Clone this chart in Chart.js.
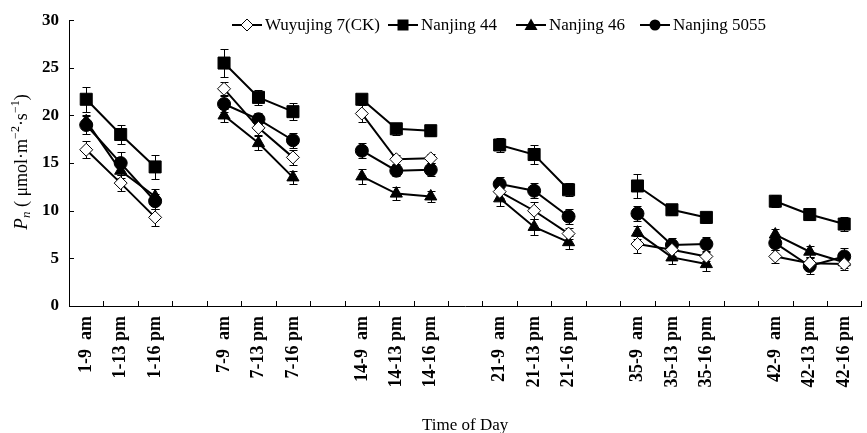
<!DOCTYPE html>
<html>
<head>
<meta charset="utf-8">
<script src="https://cdn.jsdelivr.net/npm/chart.js@4"></script>
<style>
  html, body { margin: 0; padding: 0; background: #fff; overflow: hidden; }
</style>
</head>
<body>
<canvas id="pnChart" width="876" height="433"></canvas>
<script>
// Sampling times (day-hour), empty slots separate the days
const categories = ['1-9  am', '1-13 pm', '1-16 pm', '',
                    '7-9  am', '7-13 pm', '7-16 pm', '',
                    '14-9  am', '14-13 pm', '14-16 pm', '',
                    '21-9  am', '21-13 pm', '21-16 pm', '',
                    '35-9  am', '35-13 pm', '35-16 pm', '',
                    '42-9  am', '42-13 pm', '42-16 pm'];

const yTicks = [0, 5, 10, 15, 20, 25, 30];

// Pn values per cultivar
const wuyujing = [16.4, 12.9, 9.3, null, 22.8, 18.7, 15.6, null, 20.2, 15.4, 15.5, null,
                  12.0, 10.0, 7.6, null, 6.5, 5.9, 5.2, null, 5.2, 4.5, 4.4];
const nanjing44 = [21.7, 18.0, 14.6, null, 25.5, 21.9, 20.4, null, 21.7, 18.6, 18.4, null,
                   16.9, 15.9, 12.2, null, 12.6, 10.1, 9.3, null, 11.0, 9.6, 8.6];
const nanjing46 = [19.4, 14.2, 11.5, null, 20.0, 17.1, 13.5, null, 13.6, 11.8, 11.5, null,
                   11.3, 8.3, 6.7, null, 7.7, 5.1, 4.4, null, 7.5, 5.7, 4.6];
const nanjing5055 = [19.0, 15.0, 11.0, null, 21.2, 19.6, 17.4, null, 16.3, 14.2, 14.3, null,
                     12.8, 12.1, 9.4, null, 9.7, 6.4, 6.5, null, 6.6, 4.2, 5.2];

// error bars (+/-)
const wuyujingErr = [0.9, 0.8, 0.9, null, 0.7, 0.8, 0.8, null, 0.9, 0.5, 0.5, null,
                     0.7, 0.9, 0.6, null, 0.9, 0.6, 0.5, null, 0.7, 0.6, 0.6];
const nanjing44Err = [1.3, 1.0, 1.3, null, 1.5, 0.8, 0.9, null, 0.5, 0.6, 0.6, null,
                      0.7, 1.0, 0.7, null, 1.3, 0.6, 0.6, null, 0.6, 0.6, 0.7];
const nanjing46Err = [0.6, 0.8, 0.8, null, 0.7, 0.7, 0.7, null, 0.8, 0.7, 0.6, null,
                      0.8, 0.8, 0.7, null, 0.7, 0.7, 0.7, null, 0.6, 0.6, 0.6];
const nanjing5055Err = [0.9, 1.2, 0.8, null, 0.8, 0.7, 0.8, null, 0.8, 0.6, 0.7, null,
                        0.7, 0.8, 0.8, null, 0.8, 0.7, 0.7, null, 0.7, 0.8, 0.9];

const serif = '"Liberation Serif", "Times New Roman", serif';

function makeSet(label, data, err, style, radius, fill) {
    return {
        label: label,
        data: data,
        errors: err,
        borderColor: '#000',
        borderWidth: 2,
        pointStyle: style,
        pointRadius: radius,
        pointHoverRadius: radius,
        pointBackgroundColor: fill,
        pointBorderColor: '#000',
        pointBorderWidth: 1,
        spanGaps: false,
        tension: 0
    };
}

// error bars, drawn under the markers
const errorBars = {
    id: 'errorBars',
    beforeDatasetsDraw(chart) {
        const { ctx, scales: { x, y } } = chart;
        ctx.save();
        ctx.strokeStyle = '#000';
        ctx.lineWidth = 1;
        chart.data.datasets.forEach(ds => {
            ds.data.forEach((v, i) => {
                if (v === null) return;
                const e = ds.errors[i];
                const px = Math.round(x.getPixelForValue(i)) + 0.5;
                const top = Math.round(y.getPixelForValue(v + e)) + 0.5;
                const bot = Math.round(y.getPixelForValue(v - e)) + 0.5;
                ctx.beginPath();
                ctx.moveTo(px, top); ctx.lineTo(px, bot);
                ctx.moveTo(px - 4, top); ctx.lineTo(px + 4, top);
                ctx.moveTo(px - 4, bot); ctx.lineTo(px + 4, bot);
                ctx.stroke();
            });
        });
        ctx.restore();
    }
};

// inward tick marks on both axes
const innerTicks = {
    id: 'innerTicks',
    afterDraw(chart) {
        const { ctx, chartArea, scales: { x, y } } = chart;
        ctx.save();
        ctx.strokeStyle = '#000';
        ctx.lineWidth = 1;
        ctx.beginPath();
        for (let i = 0; i <= categories.length; i++) {
            const px = Math.round(x.getPixelForValue(i - 0.5)) + 0.5;
            ctx.moveTo(px, chartArea.bottom);
            ctx.lineTo(px, chartArea.bottom - 5);
        }
        y.ticks.forEach(t => {
            const py = Math.round(y.getPixelForValue(t.value)) + 0.5;
            ctx.moveTo(chartArea.left, py);
            ctx.lineTo(chartArea.left + 5, py);
        });
        ctx.stroke();
        ctx.restore();
    }
};

// y title with italic P, subscript n and superscripts
const yTitle = {
    id: 'yTitle',
    afterDraw(chart) {
        const ctx = chart.ctx;
        const parts = [
            { t: 'P', f: 'italic 19px ' + serif, dy: 0 },
            { t: 'n', f: 'italic 13px ' + serif, dy: 5 },
            { t: ' ( μmol·m', f: '18px ' + serif, dy: 0 },
            { t: '−2', f: '12px ' + serif, dy: -6 },
            { t: '·s', f: '18px ' + serif, dy: 0 },
            { t: '−1', f: '12px ' + serif, dy: -6 },
            { t: ')', f: '18px ' + serif, dy: 0 }
        ];
        ctx.save();
        let total = 0;
        parts.forEach(p => { ctx.font = p.f; p.w = ctx.measureText(p.t).width; total += p.w; });
        ctx.translate(22, 162);
        ctx.rotate(-Math.PI / 2);
        ctx.fillStyle = '#000';
        ctx.textBaseline = 'middle';
        let cx = -total / 2;
        parts.forEach(p => { ctx.font = p.f; ctx.fillText(p.t, cx, p.dy); cx += p.w; });
        ctx.restore();
    }
};

// legend in one row inside the top of the plot: line with marker, then name
const legendX = [232, 388, 516, 640];
const lineLegend = {
    id: 'lineLegend',
    afterDraw(chart) {
        const ctx = chart.ctx;
        const shapes = ['diamond', 'square', 'triangle', 'circle'];
        const cy = 25;
        ctx.save();
        ctx.font = '17px ' + serif;
        ctx.textBaseline = 'middle';
        chart.data.datasets.forEach((ds, i) => {
            const lx = legendX[i];
            ctx.strokeStyle = '#000';
            ctx.lineWidth = 2;
            ctx.beginPath(); ctx.moveTo(lx, cy); ctx.lineTo(lx + 30, cy); ctx.stroke();
            const mx = lx + 15;
            ctx.lineWidth = 1;
            ctx.fillStyle = '#000';
            ctx.beginPath();
            if (shapes[i] === 'diamond') {
                ctx.fillStyle = '#fff';
                ctx.moveTo(mx, cy - 6); ctx.lineTo(mx + 6, cy); ctx.lineTo(mx, cy + 6); ctx.lineTo(mx - 6, cy); ctx.closePath();
                ctx.fill(); ctx.stroke();
            } else if (shapes[i] === 'square') {
                ctx.rect(mx - 5.5, cy - 5.5, 11, 11); ctx.fill();
            } else if (shapes[i] === 'triangle') {
                ctx.moveTo(mx, cy - 6.5); ctx.lineTo(mx + 6.5, cy + 5); ctx.lineTo(mx - 6.5, cy + 5); ctx.closePath(); ctx.fill();
            } else {
                ctx.arc(mx, cy, 5.5, 0, Math.PI * 2); ctx.fill();
            }
            ctx.fillStyle = '#000';
            ctx.fillText(ds.label, lx + 33, cy + 1);
        });
        ctx.restore();
    }
};

new Chart(document.getElementById('pnChart'), {
    type: 'line',
    data: {
        labels: categories,
        datasets: [
            makeSet('Wuyujing 7(CK)', wuyujing, wuyujingErr, 'rectRot', 6.5, '#fff'),
            makeSet('Nanjing 44', nanjing44, nanjing44Err, 'rect', 8.5, '#000'),
            makeSet('Nanjing 46', nanjing46, nanjing46Err, 'triangle', 7, '#000'),
            makeSet('Nanjing 5055', nanjing5055, nanjing5055Err, 'circle', 6.5, '#000')
        ]
    },
    options: {
        responsive: false,
        animation: false,
        layout: { padding: { top: 20, left: 0, right: 0, bottom: 0 } },
        plugins: {
            tooltip: { enabled: false },
            legend: { display: false }
        },
        scales: {
            x: {
                type: 'category',
                offset: true,
                grid: { display: true, drawOnChartArea: false, drawTicks: false, offset: true },
                border: { display: true, color: '#000', width: 1 },
                ticks: {
                    autoSkip: false,
                    maxRotation: 90,
                    minRotation: 90,
                    padding: 10,
                    color: '#000',
                    font: { family: serif, size: 18, weight: 'bold' }
                },
                title: {
                    display: true,
                    text: 'Time of Day',
                    color: '#000',
                    font: { family: serif, size: 17 },
                    padding: { top: 0, bottom: -3 }
                },
                afterFit(scale) { scale.height = 127; }
            },
            y: {
                min: 0,
                max: 30,
                grid: { display: true, drawOnChartArea: false, drawTicks: false },
                border: { display: true, color: '#000', width: 1 },
                afterBuildTicks(scale) { scale.ticks = yTicks.map(v => ({ value: v })); },
                ticks: {
                    padding: 10,
                    color: '#000',
                    font: { family: serif, size: 17, weight: 'bold' }
                },
                afterFit(scale) { scale.width = 69; }
            }
        }
    },
    plugins: [errorBars, innerTicks, yTitle, lineLegend]
});
</script>
</body>
</html>
